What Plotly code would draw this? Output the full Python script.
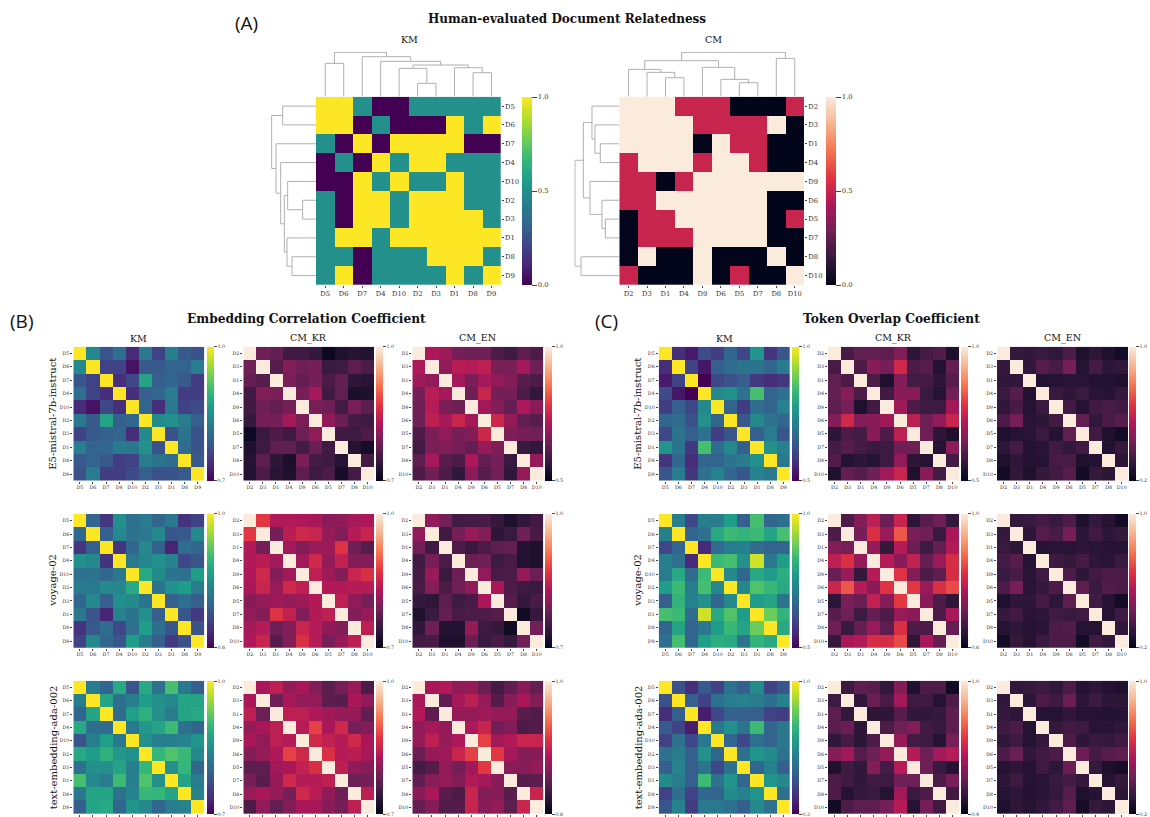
import plotly.graph_objects as go

W, H = 1150, 817

KM_ORDER = ["D5", "D6", "D7", "D4", "D10", "D2", "D3", "D1", "D8", "D9"]
CM_ORDER = ["D2", "D3", "D1", "D4", "D9", "D6", "D5", "D7", "D8", "D10"]

# Panel A: human-evaluated relatedness
HUMAN_KM = [
    [1, 1, .5, 0, 0, .5, .5, .5, .5, .5],
    [1, 1, 0, .5, 0, 0, 0, 1, .5, 1],
    [.5, 0, 1, 0, 1, 1, 1, 1, 0, 0],
    [0, .5, 0, 1, .5, 1, 1, .5, .5, .5],
    [0, 0, 1, .5, 1, .5, .5, 1, .5, .5],
    [.5, 0, 1, 1, .5, 1, 1, 1, .5, .5],
    [.5, 0, 1, 1, .5, 1, 1, 1, 1, .5],
    [.5, 1, 1, .5, 1, 1, 1, 1, 1, 1],
    [.5, .5, 0, .5, .5, .5, 1, 1, 1, .5],
    [.5, 1, 0, .5, .5, .5, .5, 1, .5, 1],
]
HUMAN_CM = [
    [1, 1, 1, .5, .5, .5, 0, 0, 0, .5],
    [1, 1, 1, 1, .5, .5, .5, .5, 1, 0],
    [1, 1, 1, 1, 0, 1, .5, .5, 0, 0],
    [.5, 1, 1, 1, .5, 1, 1, .5, 0, 0],
    [.5, .5, 0, .5, 1, 1, 1, 1, 1, 1],
    [.5, .5, 1, 1, 1, 1, 1, 1, 0, 0],
    [0, .5, .5, 1, 1, 1, 1, 1, 0, .5],
    [0, .5, .5, .5, 1, 1, 1, 1, 0, 0],
    [0, 1, 0, 0, 1, 0, 0, 0, 1, 0],
    [.5, 0, 0, 0, 1, 0, .5, 0, 0, 1],
]

# Cluster trees: (left, right, merge height)
KM_TREE = (("D5", "D6", 100),
           ("D7", ("D4", (("D10", ("D2", "D3", 40), 85),
                          ("D1", ("D8", "D9", 72), 87), 95), 106), 120), 133)
CM_TREE = ((("D2", ("D3", ("D1", "D4", 57), 73), 82),
            ("D9", ("D6", ("D5", "D7", 42), 52), 88), 108),
           ("D8", "D10", 115), 133)

# Upper triangles (off-diagonal), diagonal is 1.0
B_E5_KM = [[.841, .781, .808, .736, .82, .76, .829, .784, .775],
           [.76, .76, .715, .784, .784, .796, .796, .826],
           [.739, .766, .874, .79, .799, .784, .754],
           [.739, .79, .799, .826, .754, .754],
           [.799, .739, .82, .76, .769],
           [.844, .85, .826, .79],
           [.775, .814, .775],
           [.805, .778],
           [.784]]
B_E5_KR = [[.784, .778, .751, .751, .742, .709, .724, .73, .727],
           [.766, .799, .784, .79, .745, .748, .772, .76],
           [.793, .778, .79, .76, .775, .736, .733],
           [.79, .823, .751, .775, .721, .724],
           [.793, .784, .754, .793, .772],
           [.808, .781, .754, .748],
           [.751, .748, .76],
           [.73, .718],
           [.754]]
B_E5_EN = [[.715, .695, .65, .64, .64, .6, .585, .62, .6],
           [.68, .73, .725, .735, .655, .655, .705, .64],
           [.705, .655, .705, .68, .665, .615, .6],
           [.64, .75, .65, .65, .6, .565],
           [.7, .665, .63, .715, .675],
           [.755, .685, .63, .615],
           [.66, .65, .645],
           [.575, .565],
           [.685]]
B_VO_KM = [[.732, .664, .8, .748, .768, .732, .76, .66, .68],
           [.72, .788, .752, .76, .788, .708, .712, .788],
           [.66, .732, .788, .72, .64, .74, .732],
           [.76, .784, .8, .78, .688, .708],
           [.84, .792, .752, .748, .82],
           [.752, .8, .82, .768],
           [.72, .744, .72],
           [.708, .668],
           [.7]]
B_VO_KR = [[.874, .832, .832, .829, .826, .805, .808, .823, .829],
           [.79, .838, .856, .85, .811, .799, .835, .85],
           [.82, .799, .814, .817, .868, .784, .766],
           [.82, .856, .811, .844, .799, .799],
           [.841, .817, .799, .85, .865],
           [.832, .832, .835, .835],
           [.841, .808, .79],
           [.799, .814],
           [.841]]
B_VO_EN = [[.808, .787, .751, .754, .757, .742, .724, .739, .751],
           [.751, .79, .814, .799, .736, .745, .784, .757],
           [.76, .745, .76, .772, .778, .727, .724],
           [.781, .784, .748, .757, .727, .724],
           [.808, .757, .76, .811, .781],
           [.826, .76, .748, .745],
           [.766, .742, .757],
           [.712, .742],
           [.787]]
B_AD_KM = [[.826, .799, .88, .781, .88, .811, .91, .82, .79],
           [.874, .808, .829, .865, .85, .841, .874, .874],
           [.805, .868, .889, .85, .826, .874, .88],
           [.82, .859, .874, .904, .811, .799],
           [.85, .829, .829, .835, .856],
           [.898, .916, .901, .841],
           [.85, .898, .799],
           [.874, .826],
           [.835]]
B_AD_KR = [[.826, .841, .811, .826, .799, .772, .79, .814, .76],
           [.784, .826, .808, .811, .772, .769, .826, .808],
           [.841, .841, .829, .82, .811, .811, .775],
           [.835, .88, .826, .856, .79, .799],
           [.856, .844, .835, .856, .826],
           [.865, .835, .838, .826],
           [.841, .808, .802],
           [.784, .79],
           [.841]]
B_AD_EN = [[.768, .776, .744, .748, .708, .672, .7, .74, .704],
           [.7, .764, .788, .748, .688, .736, .768, .732],
           [.748, .748, .756, .748, .748, .692, .684],
           [.772, .8, .716, .732, .68, .688],
           [.84, .76, .776, .8, .8],
           [.832, .764, .732, .736],
           [.736, .736, .748],
           [.692, .696],
           [.8]]
C_E5_KM = [[.565, .535, .615, .59, .665, .61, .76, .575, .635],
           [.6, .53, .65, .675, .69, .69, .665, .71],
           [.5, .61, .625, .65, .585, .565, .58],
           [.735, .75, .685, .85, .66, .685],
           [.66, .59, .675, .66, .72],
           [.635, .735, .69, .665],
           [.65, .71, .635],
           [.75, .72],
           [.7]]
C_E5_KR = [[.595, .625, .625, .62, .665, .56, .59, .605, .54],
           [.6, .67, .65, .76, .6, .61, .545, .63],
           [.6, .54, .665, .59, .59, .56, .61],
           [.585, .67, .67, .575, .55, .64],
           [.695, .6, .58, .58, .7],
           [.735, .64, .68, .75],
           [.64, .56, .54],
           [.55, .675],
           [.59]]
C_E5_EN = [[.312, .304, .32, .304, .36, .264, .296, .264, .24],
           [.304, .376, .352, .44, .28, .344, .296, .304],
           [.272, .28, .288, .288, .272, .272, .264],
           [.32, .296, .32, .288, .28, .312],
           [.336, .28, .336, .352, .336],
           [.4, .304, .352, .376],
           [.336, .264, .24],
           [.272, .312],
           [.296]]
C_VO_KM = [[.715, .61, .715, .71, .775, .65, .85, .665, .68],
           [.665, .685, .8, .84, .825, .84, .79, .85],
           [.56, .675, .71, .72, .675, .66, .665],
           [.84, .85, .75, .965, .7, .775],
           [.735, .665, .8, .775, .81],
           [.735, .86, .835, .8],
           [.775, .79, .69],
           [.885, .825],
           [.8]]
C_VO_KR = [[.68, .732, .788, .708, .8, .648, .692, .712, .656],
           [.72, .82, .752, .86, .724, .712, .66, .768],
           [.748, .656, .78, .708, .664, .704, .776],
           [.78, .74, .792, .704, .752, .816],
           [.824, .732, .68, .696, .816],
           [.832, .752, .82, .848],
           [.74, .68, .648],
           [.68, .768],
           [.704]]
C_VO_EN = [[.312, .32, .344, .32, .36, .264, .312, .28, .24],
           [.296, .376, .352, .44, .296, .336, .296, .312],
           [.28, .288, .288, .296, .288, .28, .28],
           [.328, .312, .344, .296, .288, .32],
           [.36, .296, .336, .36, .36],
           [.392, .32, .368, .36],
           [.336, .28, .24],
           [.28, .336],
           [.304]]
C_AD_KM = [[.475, .391, .496, .44, .559, .51, .636, .44, .489],
           [.51, .44, .559, .594, .615, .594, .552, .615],
           [.356, .454, .517, .51, .51, .44, .426],
           [.58, .65, .566, .776, .531, .58],
           [.531, .454, .559, .524, .58],
           [.559, .664, .636, .559],
           [.531, .608, .51],
           [.664, .629],
           [.559]]
C_AD_KR = [[.496, .544, .538, .478, .598, .448, .52, .52, .424],
           [.478, .562, .514, .64, .496, .502, .46, .52],
           [.472, .472, .532, .478, .478, .484, .544],
           [.52, .568, .598, .502, .49, .544],
           [.622, .508, .496, .46, .58],
           [.67, .568, .64, .67],
           [.568, .49, .46],
           [.52, .58],
           [.502]]
C_AD_EN = [[.304, .312, .328, .304, .36, .28, .296, .28, .264],
           [.296, .36, .328, .416, .296, .328, .296, .296],
           [.28, .28, .304, .28, .28, .272, .28],
           [.312, .336, .328, .288, .288, .304],
           [.36, .296, .32, .312, .336],
           [.416, .344, .376, .392],
           [.312, .264, .248],
           [.28, .312],
           [.296]]

ZMINS_B = [[.7, .7, .5], [.6, .7, .7], [.7, .7, .6]]
ZMINS_C = [[.5, .5, .2], [.5, .6, .2], [.3, .4, .2]]
MATS_B = [[B_E5_KM, B_E5_KR, B_E5_EN], [B_VO_KM, B_VO_KR, B_VO_EN], [B_AD_KM, B_AD_KR, B_AD_EN]]
MATS_C = [[C_E5_KM, C_E5_KR, C_E5_EN], [C_VO_KM, C_VO_KR, C_VO_EN], [C_AD_KM, C_AD_KR, C_AD_EN]]
ROW_NAMES = ["E5-mistral-7b-instruct", "voyage-02", "text-embedding-ada-002"]
COL_NAMES = ["KM", "CM_KR", "CM_EN"]

ROCKET = [[0, "#03051a"], [1/7, "#35193e"], [2/7, "#701f57"], [3/7, "#ad1759"],
          [4/7, "#e13342"], [5/7, "#f37651"], [6/7, "#f6b48f"], [1, "#faebdd"]]
SERIF = "DejaVu Serif"
TICK_COL = "#444444"


def sym(tri):
    m = [[1.0] * 10 for _ in range(10)]
    for i, row in enumerate(tri):
        for k, v in enumerate(row):
            m[i][i + 1 + k] = v
            m[i + 1 + k][i] = v
    return m


def fx(p):
    return p / W


def fy(p):
    return 1 - p / H


fig = go.Figure()
layout = {}
axis_n = [0]


def new_axes():
    axis_n[0] += 1
    n = axis_n[0]
    s = "" if n == 1 else str(n)
    return n, "x" + s, "y" + s, "xaxis" + s, "yaxis" + s


def heat(z, labels, box, cbar, zmin, cscale, tickfs, cbfs, yside="left", xlabels=True, cbticks=None, cblen=3):
    x0, x1, y0, y1 = box
    n, xa, ya, xk, yk = new_axes()
    ticks = cbticks if cbticks else [zmin, 1.0]
    fig.add_trace(go.Heatmap(
        z=z, x=labels, y=labels, xaxis=xa, yaxis=ya, zmin=zmin, zmax=1.0,
        colorscale=cscale, xgap=0, ygap=0,
        colorbar=dict(
            x=fx(cbar[0]), xanchor="left", y=fy(y1), yanchor="bottom",
            len=(y1 - y0) / H, lenmode="fraction", thickness=cbar[1] - cbar[0],
            thicknessmode="pixels", xpad=0, ypad=0, outlinewidth=0,
            tickmode="array", tickvals=ticks, ticktext=["%.1f" % t for t in ticks],
            ticks="outside", ticklen=cblen, tickwidth=0.6, tickcolor=TICK_COL,
            tickfont=dict(family=SERIF, size=cbfs, color="#333333"),
        ),
    ))
    layout[xk] = dict(domain=[fx(x0), fx(x1)], anchor=ya, type="category",
                      categoryorder="array", categoryarray=labels, tickmode="array", tickvals=labels,
                      ticks="outside", ticklen=2, tickwidth=0.6, tickcolor=TICK_COL,
                      showticklabels=xlabels, showgrid=False, zeroline=False, showline=False,
                      tickangle=0, tickfont=dict(family=SERIF, size=tickfs, color="#333333"))
    layout[yk] = dict(domain=[fy(y1), fy(y0)], anchor=xa, type="category", side=yside,
                      categoryorder="array", categoryarray=labels, tickmode="array", tickvals=labels,
                      autorange="reversed", ticks="outside", ticklen=2, tickwidth=0.6, tickcolor=TICK_COL,
                      showgrid=False, zeroline=False, showline=False,
                      tickfont=dict(family=SERIF, size=tickfs, color="#333333"))


def walk(node, order, segs):
    if isinstance(node, str):
        return order.index(node), 0
    pa, ha = walk(node[0], order, segs)
    pb, hb = walk(node[1], order, segs)
    h = node[2]
    segs.append(((pa, ha), (pa, h), (pb, h), (pb, hb)))
    return (pa + pb) / 2, h


def dendro(tree, order, box, horizontal):
    x0, x1, y0, y1 = box
    segs = []
    walk(tree, order, segs)
    xs, ys = [], []
    for seg in segs:
        for p, h in seg:
            xs.append(h if horizontal else p)
            ys.append(p if horizontal else h)
        xs.append(None)
        ys.append(None)
    n, xa, ya, xk, yk = new_axes()
    fig.add_trace(go.Scatter(x=xs, y=ys, mode="lines", xaxis=xa, yaxis=ya, showlegend=False,
                             line=dict(color="#b0b0b0", width=1), hoverinfo="skip"))
    HMAX = 135
    xr = [HMAX, 0] if horizontal else [-0.5, 9.5]
    yr = [9.5, -0.5] if horizontal else [0, HMAX]
    layout[xk] = dict(domain=[fx(x0), fx(x1)], anchor=ya, range=xr, visible=False)
    layout[yk] = dict(domain=[fy(y1), fy(y0)], anchor=xa, range=yr, visible=False)


# Panel A
A_Y = (96.7, 285)
heat(HUMAN_KM, KM_ORDER, (316, 500.7, *A_Y), (522.3, 532.7), 0.0, "Viridis", 6.8, 6.8,
     yside="right", cbticks=[0.0, 0.5, 1.0], cblen=5)
heat(HUMAN_CM, CM_ORDER, (619.3, 804, *A_Y), (826.3, 836.7), 0.0, ROCKET, 6.8, 6.8,
     yside="right", cbticks=[0.0, 0.5, 1.0], cblen=5)
dendro(KM_TREE, KM_ORDER, (316, 500.7, A_Y[0] - 45, A_Y[0]), False)
dendro(KM_TREE, KM_ORDER, (271, 316, *A_Y), True)
dendro(CM_TREE, CM_ORDER, (619.3, 804, A_Y[0] - 45, A_Y[0]), False)
dendro(CM_TREE, CM_ORDER, (574.3, 619.3, *A_Y), True)

# Panels B and C
ROW_Y = [(346.7, 480.7), (514, 647.7), (680.7, 814)]
COLS_B = [((73.3, 204.3), (206.7, 213.3)), ((243.3, 374), (376, 382.7)), ((412.3, 543.3), (545, 551.7))]
COLS_C = [((658.7, 790), (791.7, 798.3)), ((828, 959), (961, 967.7)), ((997, 1128.3), (1129.3, 1136))]
for mats, zmins, cols in ((MATS_B, ZMINS_B, COLS_B), (MATS_C, ZMINS_C, COLS_C)):
    for r in range(3):
        for c in range(3):
            (x0, x1), cb = cols[c]
            heat(sym(mats[r][c]), KM_ORDER if c == 0 else CM_ORDER,
                 (x0, x1, *ROW_Y[r]), cb, zmins[r][c],
                 "Viridis" if c == 0 else ROCKET, 4.8, 4.8, xlabels=r < 2, cblen=3)

ann = []


def text(x, y, s, size, family=SERIF, bold=False, angle=0, color="#111111"):
    ann.append(dict(x=fx(x), y=fy(y), xref="paper", yref="paper", text="<b>%s</b>" % s if bold else s,
                    showarrow=False, xanchor="center", yanchor="middle", textangle=angle,
                    font=dict(family=family, size=size, color=color)))


text(567, 19.5, "Human-evaluated Document Relatedness", 12, bold=True)
text(306, 318.5, "Embedding Correlation Coefficient", 12.2, bold=True)
text(891, 318.5, "Token Overlap Coefficient", 12.2, bold=True)
text(246, 23, "(A)", 19, family="Open Sans")
text(21, 321, "(B)", 19, family="Open Sans")
text(606, 321, "(C)", 19, family="Open Sans")
text(409, 39, "KM", 9.5)
text(713, 39, "CM", 9.5)
for cols in (COLS_B, COLS_C):
    for c in range(3):
        text(sum(cols[c][0]) / 2, 338, COL_NAMES[c], 9.5)
for rx in (53, 638):
    for r in range(3):
        text(rx, sum(ROW_Y[r]) / 2, ROW_NAMES[r], 10, angle=-90)

fig.update_layout(width=W, height=H, margin=dict(l=0, r=0, t=0, b=0), paper_bgcolor="white",
                  plot_bgcolor="white", showlegend=False, annotations=ann, **layout)
fig.write_html("out.html", config={"displayModeBar": False},
               post_script="document.body.style.margin='0';document.body.style.overflow='hidden';")
